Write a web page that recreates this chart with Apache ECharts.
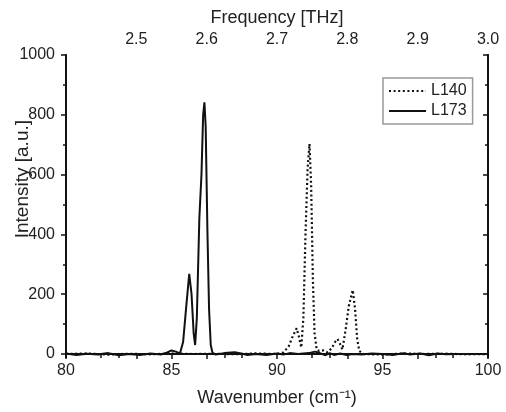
<!DOCTYPE html>
<html><head><meta charset="utf-8">
<script src="https://cdn.jsdelivr.net/npm/echarts@6/dist/echarts.min.js"></script>
<style>html,body{margin:0;padding:0;background:#fff}#c{width:506px;height:412px}</style>
</head><body><div id="c"></div>
<script>
// L173 (solid) : wavenumber (cm^-1) and intensity (a.u.)
var wn173 = [80.0,80.5,81.0,81.5,82.0,82.5,83.0,83.5,84.0,84.5,84.8,85.0,85.2,85.4,85.55,85.7,85.84,85.95,86.05,86.12,86.2,86.32,86.42,86.5,86.56,86.62,86.7,86.78,86.86,86.95,87.1,87.5,88.0,88.3,88.6,89.0,89.5,90.0,90.3,90.6,91.0,91.5,91.8,92.0,92.3,92.5,92.7,93.0,93.3,93.6,94.0,94.5,95.0,95.5,96.0,96.3,96.8,97.2,97.6,98.0,98.5,99.0,99.5,100.0];
var int173 = [2,-3,1,-2,3,-4,0,-3,2,-2,5,12,8,2,40,160,268,200,70,30,120,455,600,800,842,760,420,150,30,2,-2,3,6,2,-3,0,-3,2,-2,3,0,3,8,4,-4,3,-3,2,-3,0,-2,2,0,-3,3,-2,2,-4,2,-1,0,0,0,0];
// L140 (dotted)
var wn140 = [80,81,82,83,84,85,86,87,88,89,90,90.3,90.55,90.75,90.93,91.05,91.15,91.25,91.35,91.45,91.54,91.62,91.7,91.78,91.88,92.0,92.2,92.4,92.6,92.75,92.87,92.98,93.1,93.25,93.4,93.59,93.7,93.8,93.9,94.1,95,96,97,98,99,100];
var int140 = [0,2,-2,1,-1,2,0,1,-1,2,0,5,25,60,86,55,22,120,400,620,703,560,250,70,15,10,12,5,20,40,50,35,15,80,160,214,150,50,10,0,-2,2,0,1,-1,0];
var seriesNames = ['L140','L173'];
var yMajor = [0,200,400,600,800,1000];
var yMinor = [100,300,500,700,900];

function pairs(xs, ys){ return xs.map(function(x,i){return [x, ys[i]];}); }

var FONT = "'Liberation Sans', Arial, sans-serif";
var TXT = '#222';
var AX = {lineStyle:{color:'#111', width:1.8}};

function yAx(pos, showLabel, ticks, len, inside){
  return {
    type:'value', position:pos, min:-10, max:1000,
    axisLine:{show:true, lineStyle:{color:'#111', width:1.8}},
    axisTick:{show:true, customValues:ticks, length:len, inside:inside, lineStyle:{color:'#111', width:1.5}},
    axisLabel:{show:showLabel, customValues:ticks, margin:11, color:TXT, fontSize:16, fontFamily:FONT,
      formatter:function(v){ return String(v); }},
    splitLine:{show:false}
  };
}

var chart = echarts.init(document.getElementById('c'), null, {renderer:'canvas'});
chart.setOption({
  animation:false,
  backgroundColor:'#fff',
  grid:{left:66, right:18, top:55, bottom:51, containLabel:false},
  legend:{
    orient:'vertical', left:383, top:78,
    data:seriesNames,
    itemWidth:37, itemHeight:14, itemGap:4,
    padding:[5,6,5,5],
    borderColor:'#999', borderWidth:1.5, borderRadius:0,
    itemStyle:{color:'transparent', borderWidth:0, opacity:0},
    textStyle:{fontSize:16, fontFamily:FONT, color:TXT}
  },
  xAxis:[{
    type:'value', position:'bottom', min:80, max:100, interval:5,
    name:'Wavenumber (cm⁻¹)', nameLocation:'middle', nameGap:32,
    nameTextStyle:{fontSize:18, fontFamily:FONT, color:TXT},
    axisLine:AX,
    axisTick:{show:true, length:5, inside:false, lineStyle:{color:'#111', width:1.5}},
    minorTick:{show:true, splitNumber:2, length:4, lineStyle:{color:'#111', width:1.5}},
    axisLabel:{margin:6, color:TXT, fontSize:16, fontFamily:FONT},
    splitLine:{show:false}
  },{
    type:'value', position:'top', min:2.4, max:3.0, interval:0.1,
    name:'Frequency [THz]', nameLocation:'middle', nameGap:27,
    nameTextStyle:{fontSize:18, fontFamily:FONT, color:TXT},
    axisLine:AX,
    axisTick:{show:true, length:5, inside:true, lineStyle:{color:'#111', width:1.5}},
    minorTick:{show:true, splitNumber:2, length:4, lineStyle:{color:'#111', width:1.5}},
    axisLabel:{margin:7, color:TXT, fontSize:16, fontFamily:FONT, showMinLabel:false,
      formatter:function(v){ return v.toFixed(1); }},
    splitLine:{show:false}
  }],
  yAxis:[
    yAx('left', true, yMajor, 5, false),
    yAx('right', false, yMajor, 5, true),
    yAx('left', false, yMinor, 3, false),
    yAx('right', false, yMinor, 3, true)
  ],
  graphic:[{
    type:'text', left:13, top:120, rotation:Math.PI/2,
    style:{text:'Intensity [a.u.]', font:'19px ' + FONT, fill:TXT}
  }],
  series:[{
    name:'L140', type:'line', xAxisIndex:0, yAxisIndex:0,
    data:pairs(wn140, int140), symbol:'none', smooth:false,
    lineStyle:{color:'#111', width:2.2, type:[2,2.6]}, itemStyle:{color:'#111'}, z:2
  },{
    name:'L173', type:'line', xAxisIndex:0, yAxisIndex:0,
    data:pairs(wn173, int173), symbol:'none', smooth:false,
    lineStyle:{color:'#111', width:2}, itemStyle:{color:'#111'}, z:3
  }]
});
</script>
</body></html>
